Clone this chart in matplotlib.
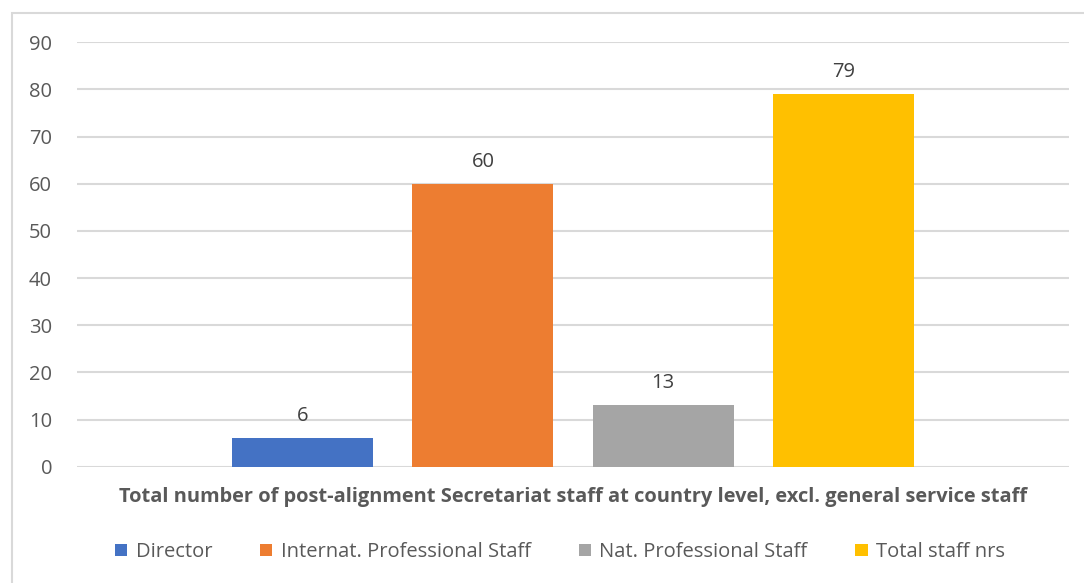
import matplotlib
matplotlib.use("Agg")
import matplotlib.pyplot as plt
from matplotlib.patches import Rectangle, Patch

# Data
categories = ["Director", "Internat. Professional Staff", "Nat. Professional Staff", "Total staff nrs"]
values = [6, 60, 13, 79]
colors = ["#4472C4", "#ED7D31", "#A5A5A5", "#FFC000"]
yticks = [0, 10, 20, 30, 40, 50, 60, 70, 80, 90]
xlabel = "Total number of post-alignment Secretariat staff at country level, excl. general service staff"

plt.rcParams["font.family"] = ["Open Sans", "DejaVu Sans"]
text_col = "#595959"

W, H = 1084, 583
fig = plt.figure(figsize=(W / 100, H / 100), dpi=100)

# chart border
fig.patches.append(Rectangle((12 / W, -0.1), 1.2, 1 - 13 / H + 0.1, transform=fig.transFigure,
                             fill=False, edgecolor="#D9D9D9", linewidth=1.5))

ax = fig.add_axes([77 / W, 1 - 466.7 / H, (1069 - 77) / W, (466.7 - 42.3) / H])

x = list(range(len(values)))
ax.bar(x, values, width=0.783, color=colors, zorder=3)
for xi, v in zip(x, values):
    ax.text(xi, v + 2.6, str(v), ha="center", va="bottom", fontsize=14.5, color="#404040")

ax.set_xlim(-1.253, 4.253)
ax.set_ylim(0, 90)
ax.set_yticks(yticks)
ax.set_xticks([])
ax.tick_params(axis="y", length=0, pad=18, labelsize=14.5, labelcolor=text_col)
ax.grid(axis="y", color="#D9D9D9", linewidth=1.5, zorder=0)
for s in ax.spines.values():
    s.set_visible(False)

fig.text(573 / W, 1 - 497 / H, xlabel, ha="center", va="center",
         fontsize=14.4, fontweight="bold", color=text_col)

handles = [Patch(facecolor=c, label=l) for c, l in zip(colors, categories)]
fig.legend(handles=handles, loc="center", bbox_to_anchor=(560 / W, 1 - 552 / H), ncol=4,
           frameon=False, fontsize=14.5, labelcolor=text_col, handlelength=0.6, handleheight=0.6,
           handletextpad=0.4, columnspacing=2.4)

fig.savefig("out.png", dpi=100)
